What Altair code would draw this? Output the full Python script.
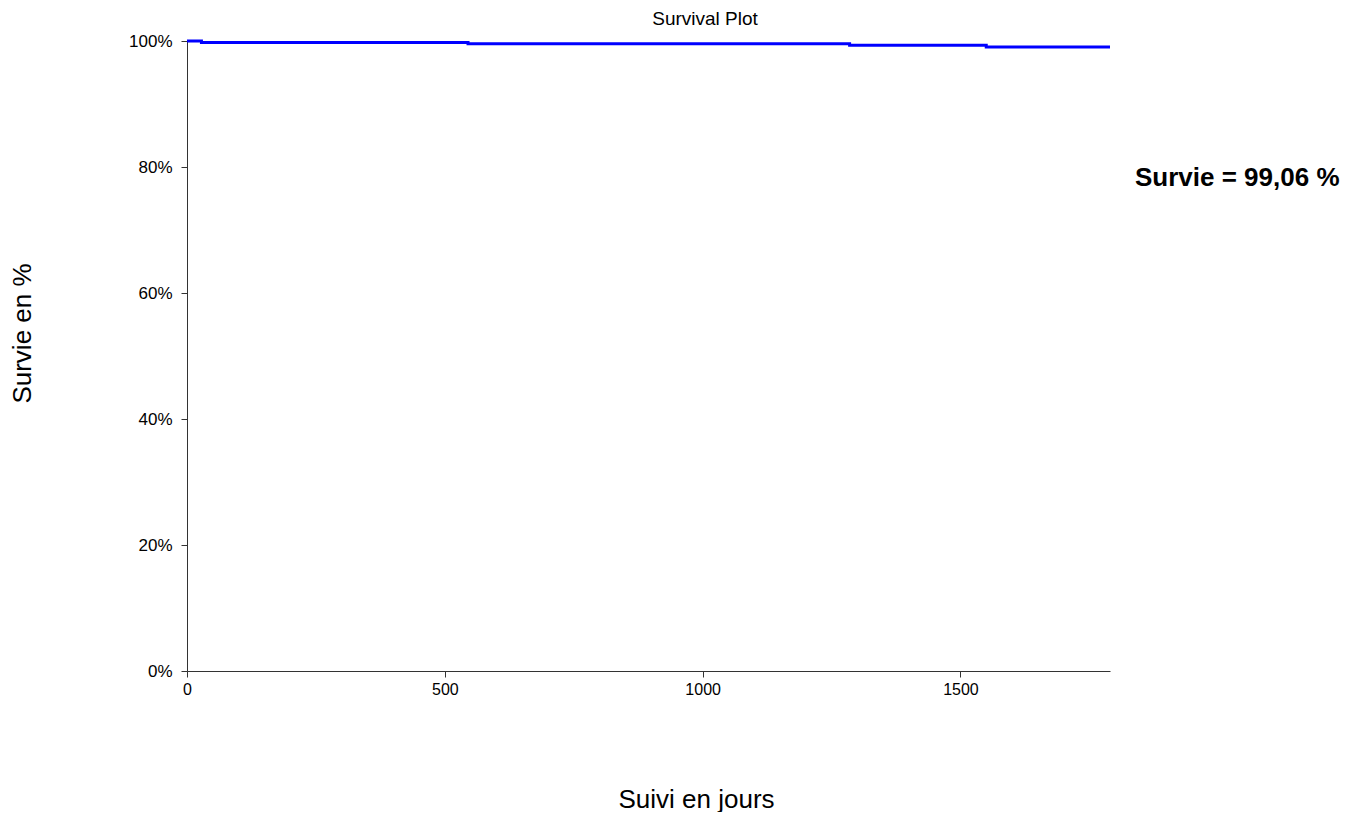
import altair as alt
import pandas as pd

# Survival curve (Kaplan-Meier, step function)
days = [0, 28, 545, 1285, 1550, 1790]
survival = [100.0, 99.78, 99.58, 99.32, 99.06, 99.06]

x_ticks = [0, 500, 1000, 1500]
y_ticks = [0, 20, 40, 60, 80, 100]
annotation = ["Survie = 99,06 %"]
plot_title = ["Survival Plot"]

df = pd.DataFrame({"jours": days, "survie": survival})
df_note = pd.DataFrame({"label": annotation})
df_title = pd.DataFrame({"label": plot_title})

FONT = "Liberation Sans"

common_axis = dict(
    titleAlign="center",
    titleBaseline="middle",
    titleFontSize=26,
    titleFontWeight="normal",
    titleFont=FONT,
    titleColor="#000000",
    labelFont=FONT,
    labelColor="#000000",
    labelFlush=False,
    grid=False,
    domainColor="#333333",
    tickColor="#333333",
    tickSize=6,
)

line = alt.Chart(df).mark_line(
    interpolate="step-after", color="#0000FF", strokeWidth=3
).encode(
    x=alt.X(
        "jours:Q",
        scale=alt.Scale(domain=[0, 1790], nice=False, zero=True),
        axis=alt.Axis(
            values=x_ticks,
            format="d",
            title="Suivi en jours",
            titleX=509,
            titleY=128,
            labelPadding=4,
            labelFontSize=16,
            **common_axis,
        ),
    ),
    y=alt.Y(
        "survie:Q",
        scale=alt.Scale(domain=[0, 100], nice=False),
        axis=alt.Axis(
            values=y_ticks,
            labelExpr="datum.value + '%'",
            title="Survie en %",
            titleX=-165,
            titleY=292,
            titleAngle=-90,
            labelPadding=9,
            labelFontSize=17,
            **common_axis,
        ),
    ),
)

note = alt.Chart(df_note).mark_text(
    align="left", baseline="middle", fontSize=26, fontWeight="bold",
    font=FONT, color="#000000"
).encode(
    text="label:N",
    x=alt.value(948),
    y=alt.value(137),
)

title = alt.Chart(df_title).mark_text(
    align="center", baseline="middle", fontSize=19, fontWeight="normal",
    font=FONT, color="#000000"
).encode(
    text="label:N",
    x=alt.value(518),
    y=alt.value(-22),
)

chart = alt.layer(line, note, title).properties(
    width=923,
    height=630,
    background="white",
    autosize=alt.AutoSizeParams(type="none"),
    padding={"left": 179, "top": 33, "right": 246, "bottom": 141},
).configure_view(stroke="transparent", strokeWidth=0)

chart.save("out.html", embed_options={"renderer": "svg", "actions": False})
